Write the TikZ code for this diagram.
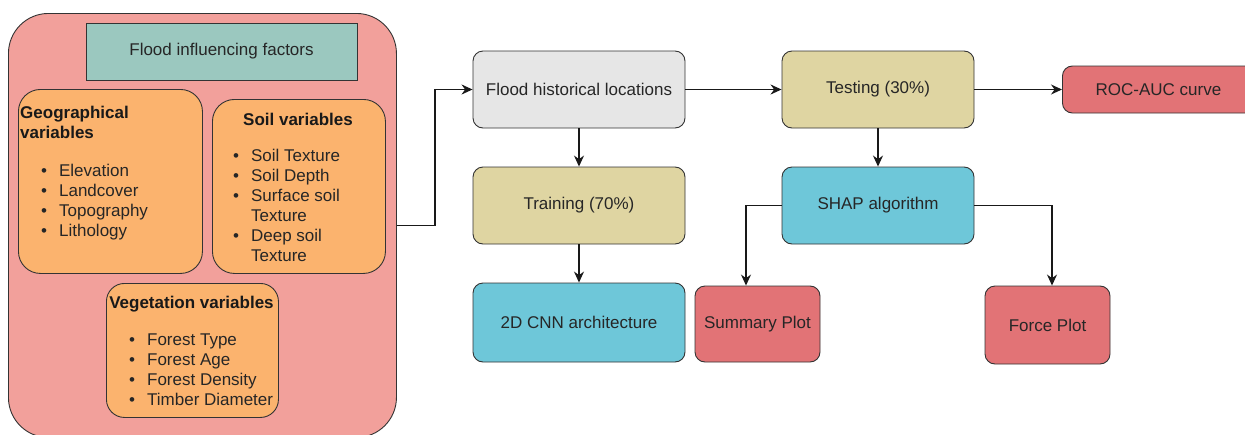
\documentclass[tikz,border=0pt]{standalone}
\usepackage{fontspec}
\setmainfont{Liberation Sans}
\usetikzlibrary{arrows.meta}
\definecolor{pinkbg}{HTML}{F2A09B}
\definecolor{orangebg}{HTML}{FBB36E}
\definecolor{tealbg}{HTML}{9BC8BF}
\definecolor{graybg}{HTML}{E6E6E6}
\definecolor{tanbg}{HTML}{DFD5A2}
\definecolor{bluebg}{HTML}{6EC7D9}
\definecolor{redbg}{HTML}{E27376}
\definecolor{linec}{HTML}{333333}
\begin{document}
\begin{tikzpicture}[x=1pt,y=-1pt,
  box/.style={draw=linec, line width=0.9pt, rounded corners=10pt, inner sep=0pt,
    font=\fontsize{17}{20}\selectfont, text=black!85},
  txt/.style={inner sep=0pt, font=\fontsize{17}{20}\selectfont, text=black!85},
  hdr/.style={inner sep=0pt, font=\fontsize{17}{20}\selectfont\bfseries, text=black!90},
  arr/.style={-{Stealth[length=11pt,width=10pt]}, line width=1.4pt, black!90},
  ln/.style={line width=1.3pt, black!90}]
\path[use as bounding box] (0,0) rectangle (1245,434);
\clip (0,0) rectangle (1245,434);

% big factors box
\node[box, fill=pinkbg, rounded corners=40pt, minimum width=388pt, minimum height=424pt, anchor=north west] (factors) at (8,13) {};
\node[box, fill=tealbg, rounded corners=0pt, minimum width=271pt, minimum height=57pt] (title) at (221.5,51.5) {Flood influencing factors};

\node[box, fill=orangebg, rounded corners=22pt, minimum width=184pt, minimum height=184pt, anchor=north west] (geo) at (18,89) {};
\node[box, fill=orangebg, rounded corners=22pt, minimum width=173pt, minimum height=174pt, anchor=north west] (soil) at (212,99) {};
\node[box, fill=orangebg, rounded corners=18pt, minimum width=172pt, minimum height=134pt, anchor=north west] (veg) at (106,283) {};

\node[hdr, anchor=north west, align=left] (geoh) at (20,106) {Geographical\\variables};
\node[txt, anchor=north west] (geol) at (41,162) {\begin{tabular}{@{}l@{\hspace{12pt}}l@{}}
\textbullet & Elevation\\ \textbullet & Landcover\\ \textbullet & Topography\\ \textbullet & Lithology\end{tabular}};

\node[hdr] (soilh) at (298,119) {Soil variables};
\node[txt, anchor=north west] (soill) at (233,147) {\begin{tabular}{@{}l@{\hspace{12pt}}l@{}}
\textbullet & Soil Texture\\ \textbullet & Soil Depth\\ \textbullet & Surface soil\\ & Texture\\ \textbullet & Deep soil\\ & Texture\end{tabular}};

\node[hdr] (vegh) at (191.5,304) {Vegetation variables};
\node[txt, anchor=north west] (vegl) at (129,331) {\begin{tabular}{@{}l@{\hspace{12pt}}l@{}}
\textbullet & Forest Type\\ \textbullet & Forest Age\\ \textbullet & Forest Density\\ \textbullet & Timber Diameter\end{tabular}};

% flow nodes
\node[box, fill=graybg, minimum width=212pt, minimum height=77pt] (flood) at (579,89.5) {Flood historical locations};
\node[box, fill=tanbg, minimum width=192pt, minimum height=77pt] (test) at (878,89.5) {Testing (30\%)};
\node[box, fill=redbg, minimum width=210pt, minimum height=47pt, anchor=west] (roc) at (1062,89.5) {\hspace*{-18pt}ROC-AUC curve};
\node[box, fill=tanbg, minimum width=212pt, minimum height=77pt] (train) at (579,205.5) {Training (70\%)};
\node[box, fill=bluebg, minimum width=192pt, minimum height=77pt] (shap) at (878,205.5) {SHAP algorithm};
\node[box, fill=bluebg, minimum width=212pt, minimum height=79pt] (cnn) at (579,322.5) {2D CNN architecture};
\node[box, fill=redbg, minimum width=125pt, minimum height=76pt] (summary) at (757.5,324) {Summary Plot};
\node[box, fill=redbg, minimum width=125pt, minimum height=78pt] (force) at (1047.5,325) {Force Plot};

% connectors
\draw[arr] (factors.east) -- ++(38,0) |- (flood.west);
\draw[arr] (flood.east) -- (test.west);
\draw[arr] (test.east) -- (roc.west);
\draw[arr] (flood.south) -- (train.north);
\draw[arr] (train.south) -- (cnn.north);
\draw[arr] (test.south) -- (shap.north);
\draw[arr] (shap.west) -| ([xshift=-11.5pt]summary.north);
\draw[arr] (shap.east) -| ([xshift=4.5pt]force.north);
\end{tikzpicture}
\end{document}
